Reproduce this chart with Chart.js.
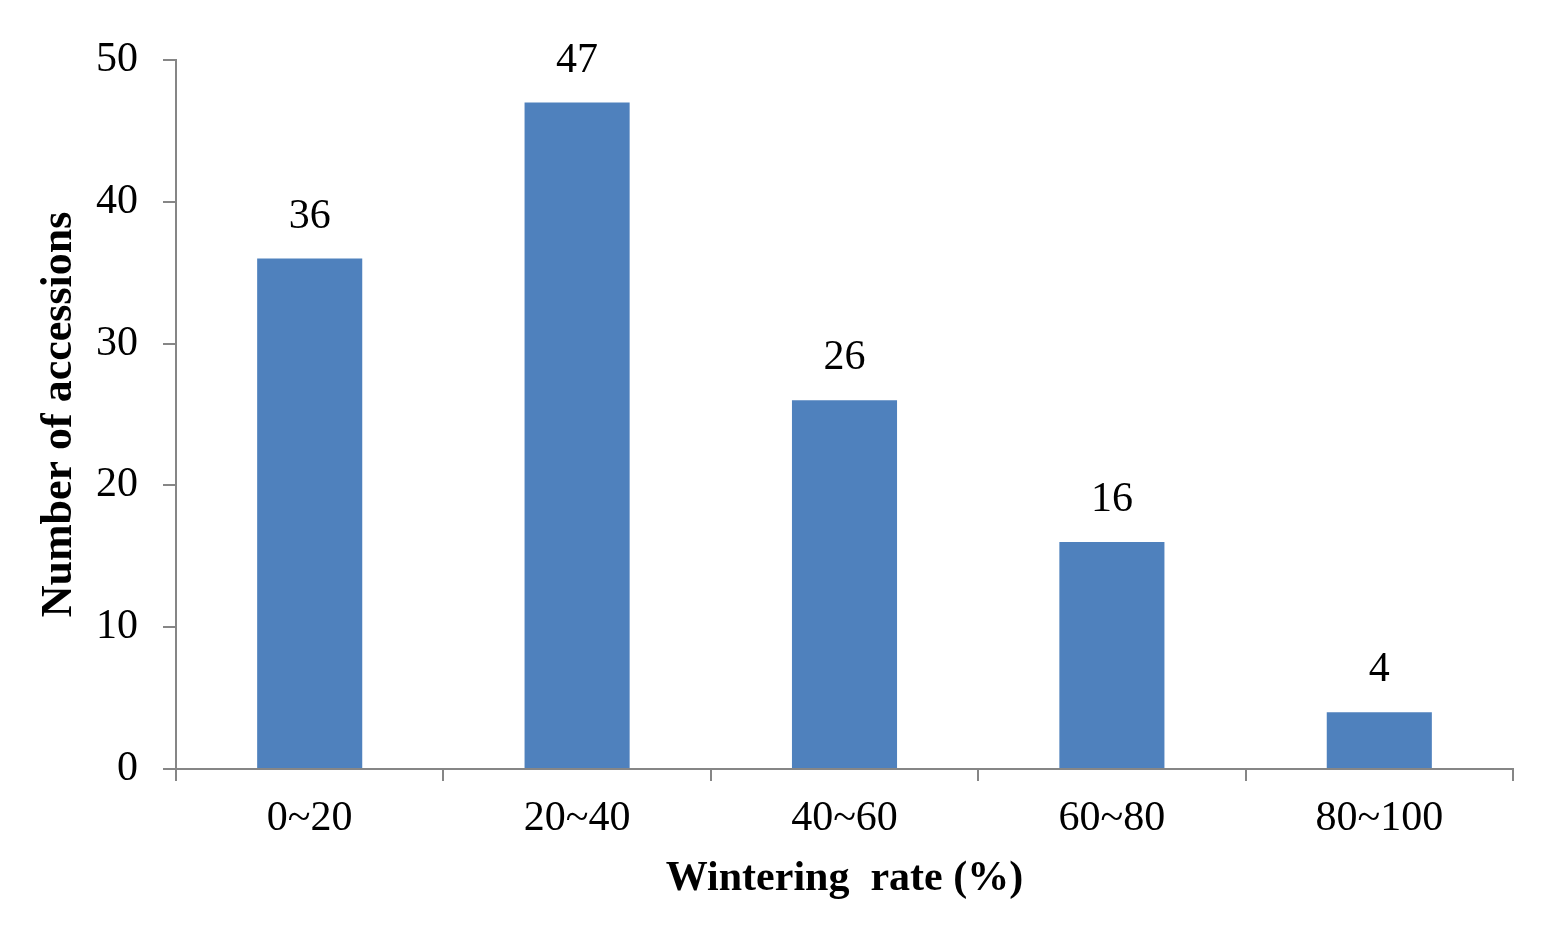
<!DOCTYPE html>
<html>
<head>
<meta charset="utf-8">
<script src="https://cdn.jsdelivr.net/npm/chart.js@4/dist/chart.umd.min.js"></script>
<style>
  html, body { margin: 0; padding: 0; background: #fff; }
  canvas { display: block; }
</style>
</head>
<body>
<canvas id="myChart" width="1545" height="938"></canvas>
<script>
// datos del grafico
const categorias = ["0~20", "20~40", "40~60", "60~80", "80~100"];
const accesiones = [36, 47, 26, 16, 4];
const yTicks = [0, 10, 20, 30, 40, 50];

const fuente = "'Liberation Serif', 'Times New Roman', serif";
const gris = "#868686";

// etiquetas sobre cada barra
const etiquetasBarras = {
  id: "etiquetasBarras",
  afterDatasetsDraw(chart) {
    const { ctx } = chart;
    const meta = chart.getDatasetMeta(0);
    ctx.save();
    ctx.font = "42px " + fuente;
    ctx.fillStyle = "#000";
    ctx.textAlign = "center";
    ctx.textBaseline = "alphabetic";
    meta.data.forEach((bar, i) => {
      ctx.fillText(String(accesiones[i]), bar.x, bar.y - 31);
    });
    ctx.restore();
  }
};

new Chart("myChart", {
  type: "bar",
  data: {
    labels: categorias,
    datasets: [{
      data: accesiones,
      backgroundColor: "#4F81BD",
      borderWidth: 0,
      barPercentage: 0.393,
      categoryPercentage: 1
    }]
  },
  options: {
    responsive: false,
    animation: false,
    devicePixelRatio: 1,
    layout: { padding: { top: 60, right: 32, bottom: 0, left: 0 } },
    plugins: {
      legend: { display: false },
      tooltip: { enabled: false }
    },
    scales: {
      x: {
        afterFit(scale) { scale.height = 169; },
        border: { color: gris, width: 2 },
        grid: {
          offset: true,
          drawOnChartArea: false,
          drawTicks: true,
          tickLength: 12,
          color: gris,
          lineWidth: 2
        },
        ticks: {
          color: "#000",
          font: { family: fuente, size: 42 },
          padding: 13,
          maxRotation: 0
        },
        title: {
          display: true,
          text: "Wintering  rate (%)",
          color: "#000",
          font: { family: fuente, size: 42, weight: "bold" },
          padding: { top: 0, bottom: 34 }
        }
      },
      y: {
        min: 0,
        max: 50,
        afterFit(scale) { scale.width = 176; },
        afterBuildTicks(scale) { scale.ticks = yTicks.map(v => ({ value: v })); },
        border: { color: gris, width: 2 },
        grid: {
          drawOnChartArea: false,
          drawTicks: true,
          tickLength: 13,
          color: gris,
          lineWidth: 2
        },
        ticks: {
          color: "#000",
          font: { family: fuente, size: 42 },
          padding: 25
        },
        title: {
          display: true,
          text: "Number of accessions",
          color: "#000",
          font: { family: fuente, size: 44, weight: "bold" },
          padding: { top: 33, bottom: 0 }
        }
      }
    }
  },
  plugins: [etiquetasBarras]
});
</script>
</body>
</html>
